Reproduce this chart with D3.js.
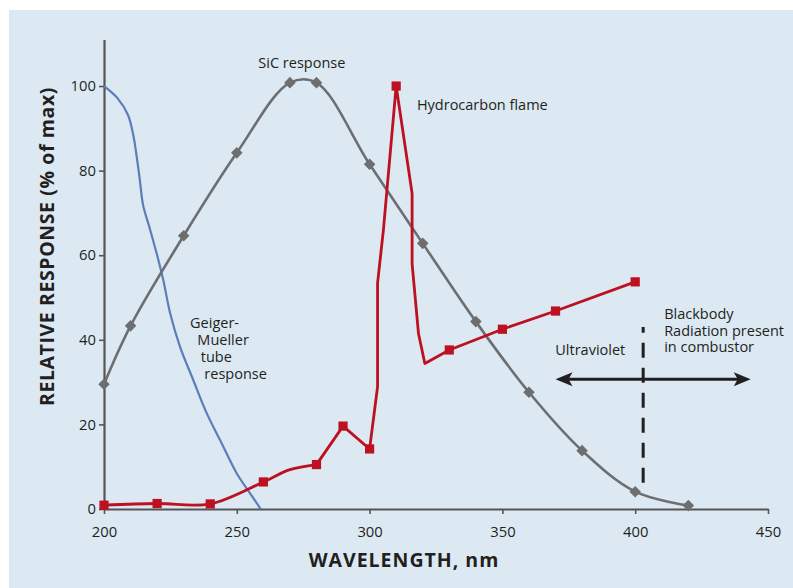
<!DOCTYPE html>
<html>
<head>
<meta charset="utf-8">
<script src="https://cdn.jsdelivr.net/npm/d3@7"></script>
<style>
  html, body { margin: 0; padding: 0; background: #ffffff; }
  svg { display: block; }
  text { font-family: "Open Sans", "DejaVu Sans", sans-serif; fill: #231f20; }
</style>
</head>
<body>
<svg id="chart" width="793" height="588"></svg>
<script>
// ---- data -------------------------------------------------------------
const xTicks = [200, 250, 300, 350, 400, 450];
const yTicks = [0, 20, 40, 60, 80, 100];

// SiC detector response (% of max) vs wavelength (nm)
const sicNm  = [200, 210, 230, 250, 270, 280, 300, 320, 340, 360, 380, 400, 420];
const sicPct = [29.5, 43.3, 64.6, 84.2, 100.8, 100.8, 81.5, 62.8, 44.3, 27.6, 13.8, 4.1, 0.8];

// Geiger-Mueller tube response
const gmNm  = [200, 205, 209, 211, 212.2, 213.4, 214.7, 217.2, 220.3, 222.3, 224.9, 228.6, 233.6, 238.7, 243.7, 250, 255, 259];
const gmPct = [100, 97.2, 93.2, 88.5, 83.8, 78.3, 71.9, 66.4, 59.3, 54.2, 46.3, 38.4, 30.5, 22.6, 16.3, 8.4, 3.7, 0];

// Hydrocarbon flame emission
const flameNm     = [200, 220, 240, 260, 270, 280, 290, 300, 303, 303, 305.2, 310, 316, 316, 318.4, 320.8, 330, 350, 370, 400];
const flamePct    = [0.9, 1.3, 1.2, 6.4, 9.3, 10.5, 19.6, 14.2, 28.9, 53.4, 66, 100, 74.6, 58, 41.5, 34.4, 37.6, 42.5, 46.8, 53.7];
const flameMarked = [true, true, true, true, false, true, true, true, false, false, false, true, false, false, false, false, true, true, true, true];
const flameSmoothEnd = 5;   // index where the smooth low-level part joins the straight segments

// ---- layout ------------------------------------------------------------
const svg = d3.select("#chart");
const W = 793, H = 588;

svg.append("rect")
  .attr("x", 9).attr("y", 10)
  .attr("width", W - 9).attr("height", H - 10)
  .attr("fill", "#dce9f3");

const x = d3.scaleLinear().domain([200, 450]).range([104, 768]);
const y = d3.scaleLinear().domain([0, 111]).range([509, 39.5]);

// ---- axes --------------------------------------------------------------
const axisColor = "#555555";

const gx = svg.append("g")
  .attr("transform", `translate(0,${y(0)})`)
  .call(d3.axisBottom(x).tickValues(xTicks).tickSize(5).tickSizeOuter(0).tickPadding(12));
const gy = svg.append("g")
  .attr("transform", `translate(${x(200)},0)`)
  .call(d3.axisLeft(y).tickValues(yTicks).tickSize(5).tickSizeOuter(0).tickPadding(3));

[gx, gy].forEach(g => {
  g.select(".domain").attr("stroke", axisColor).attr("stroke-width", 2.2);
  g.selectAll(".tick line").attr("stroke", axisColor).attr("stroke-width", 1.6);
  g.selectAll(".tick text")
    .attr("fill", "#231f20")
    .style("font-family", '"Open Sans", sans-serif')
    .style("font-size", "14.8px");
});

svg.append("text")
  .attr("x", 404).attr("y", 566.5)
  .attr("text-anchor", "middle")
  .style("font-weight", "bold").style("font-size", "19.5px")
  .style("letter-spacing", "1px")
  .text("WAVELENGTH, nm");

svg.append("text")
  .attr("transform", `translate(54,246.5) rotate(-90)`)
  .attr("text-anchor", "middle")
  .style("font-weight", "bold").style("font-size", "19.5px")
  .style("letter-spacing", "0.6px")
  .text("RELATIVE RESPONSE (% of max)");

// ---- series ------------------------------------------------------------
const smooth = d3.line().x(d => x(d[0])).y(d => y(d[1])).curve(d3.curveCatmullRom.alpha(0.5));
const straight = d3.line().x(d => x(d[0])).y(d => y(d[1]));

const gm = gmNm.map((v, i) => [v, gmPct[i]]);
const sic = sicNm.map((v, i) => [v, sicPct[i]]);
const flame = flameNm.map((v, i) => [v, flamePct[i], flameMarked[i]]);

// Geiger-Mueller tube
svg.append("path").datum(gm)
  .attr("d", smooth).attr("fill", "none")
  .attr("stroke", "#5b7dba").attr("stroke-width", 2.2);

// SiC response
const sicColor = "#6d6e70";
svg.append("path").datum(sic)
  .attr("d", smooth).attr("fill", "none")
  .attr("stroke", sicColor).attr("stroke-width", 2.6);
svg.selectAll("path.sic-marker").data(sic).join("path")
  .attr("class", "sic-marker")
  .attr("d", d3.symbol(d3.symbolDiamond2, 85)())
  .attr("transform", d => `translate(${x(d[0])},${y(d[1])})`)
  .attr("fill", sicColor);

// Hydrocarbon flame
const flameColor = "#bd1020";
svg.append("path").datum(flame.slice(0, flameSmoothEnd + 1))
  .attr("d", smooth).attr("fill", "none")
  .attr("stroke", flameColor).attr("stroke-width", 2.8)
  .attr("stroke-linejoin", "round");
svg.append("path").datum(flame.slice(flameSmoothEnd))
  .attr("d", straight).attr("fill", "none")
  .attr("stroke", flameColor).attr("stroke-width", 2.8)
  .attr("stroke-linejoin", "round");
svg.selectAll("rect.flame-marker").data(flame.filter(d => d[2])).join("rect")
  .attr("class", "flame-marker")
  .attr("x", d => x(d[0]) - 4.6).attr("y", d => y(d[1]) - 4.6)
  .attr("width", 9.2).attr("height", 9.2)
  .attr("fill", flameColor);

// ---- annotations ---------------------------------------------------------
const label = (nm, pct, lines, dys, anchor) => {
  const t = svg.append("text")
    .attr("x", x(nm)).attr("y", y(pct))
    .attr("text-anchor", anchor || "start")
    .style("font-size", "14.5px");
  lines.forEach((s, i) => {
    t.append("tspan")
      .attr("x", x(nm) + (dys ? dys[i][0] : 0))
      .attr("dy", i === 0 ? 0 : (dys ? dys[i][1] : 0))
      .text(s);
  });
  return t;
};

label(274.5, 104.2, ["SiC response"], null, "middle");
label(317.8, 94.4, ["Hydrocarbon flame"]);
label(232.4, 42.9, ["Geiger-", "Mueller", "tube", "response"],
      [[0, 0], [7.3, 17.5], [10.7, 16.7], [14.3, 17.6]]);
label(369.9, 36.4, ["Ultraviolet"]);
label(410.9, 44.9, ["Blackbody", "Radiation present", "in combustor"],
      [[0, 0], [0, 17], [0, 16]]);

// boundary between UV and blackbody regions
svg.append("line")
  .attr("x1", x(403)).attr("x2", x(403))
  .attr("y1", y(6.2)).attr("y2", y(43))
  .attr("stroke", "#231f20").attr("stroke-width", 3)
  .attr("stroke-dasharray", "15,10");

// double-headed arrow
const arrowY = y(30.7), arrowL = x(370), arrowR = x(443.5);
const headLen = 17, headHalf = 7;
svg.append("line")
  .attr("x1", arrowL + 8).attr("x2", arrowR - 8)
  .attr("y1", arrowY).attr("y2", arrowY)
  .attr("stroke", "#231f20").attr("stroke-width", 3);
svg.append("path")
  .attr("d", `M${arrowL},${arrowY} L${arrowL + headLen},${arrowY - headHalf} L${arrowL + headLen - 4},${arrowY} L${arrowL + headLen},${arrowY + headHalf} Z`)
  .attr("fill", "#231f20");
svg.append("path")
  .attr("d", `M${arrowR},${arrowY} L${arrowR - headLen},${arrowY - headHalf} L${arrowR - headLen + 4},${arrowY} L${arrowR - headLen},${arrowY + headHalf} Z`)
  .attr("fill", "#231f20");
</script>
</body>
</html>
